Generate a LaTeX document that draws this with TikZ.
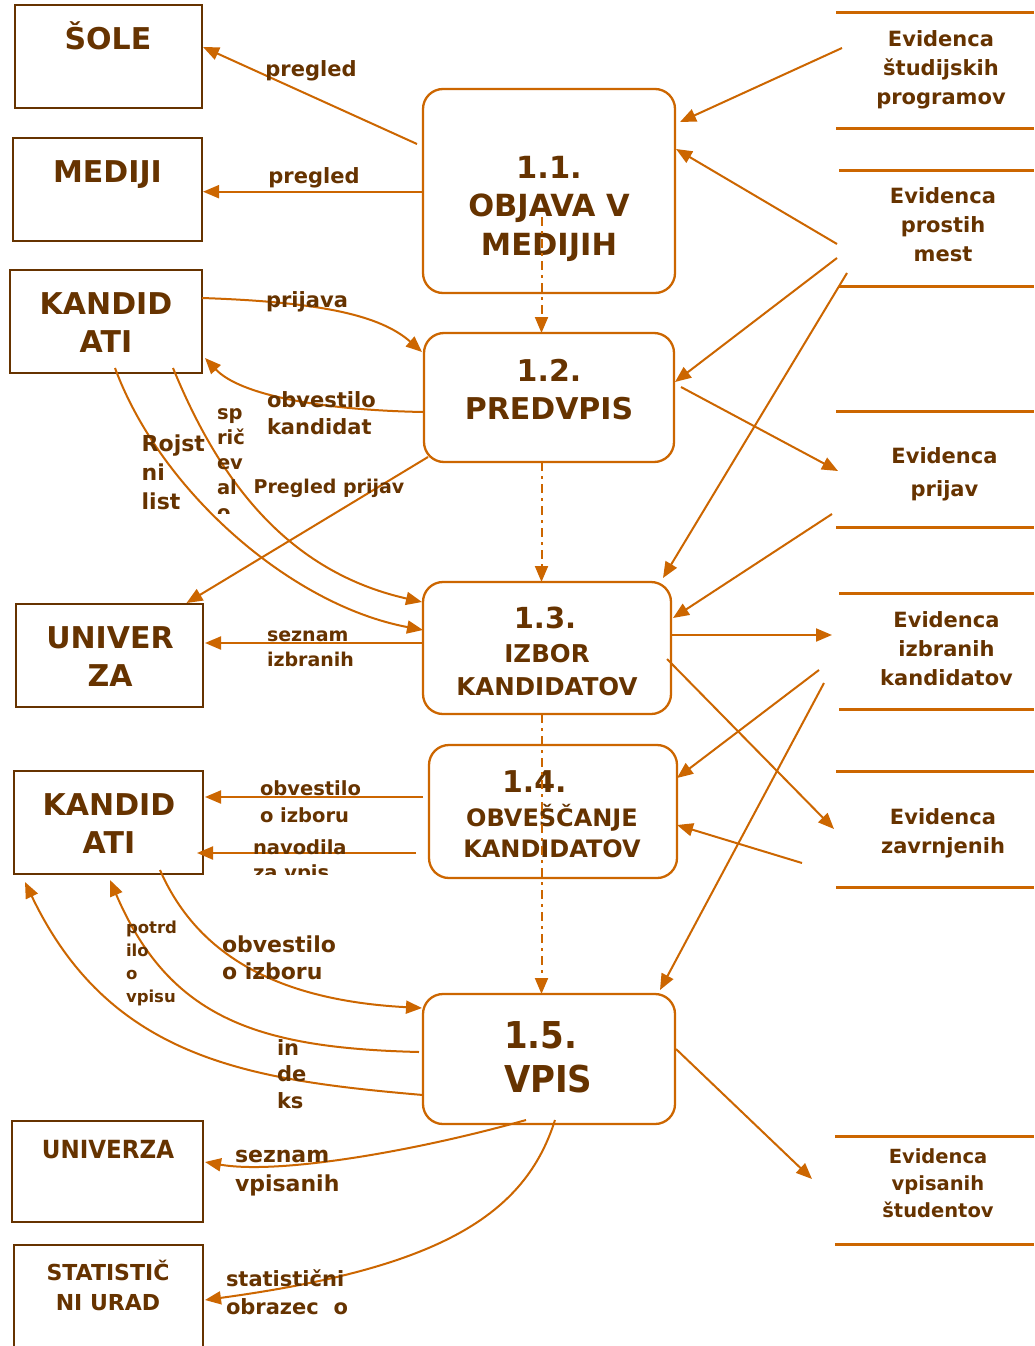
\documentclass[tikz,border=0pt]{standalone}
\usepackage{fontspec}
\setmainfont{DejaVu Sans}
\newfontfamily\narrowfont{DejaVu Sans}[FakeStretch=0.92]
\usetikzlibrary{arrows.meta,calc}
\definecolor{flowc}{RGB}{204,102,0}
\definecolor{inkc}{RGB}{102,51,0}
\tikzset{
  every node/.style={inner sep=0pt, outer sep=0pt},
  entity/.style={draw=inkc, line width=2.6pt, rectangle},
  proc/.style={draw=flowc, line width=2.3pt, rectangle, rounded corners=20pt},
  store/.style={rectangle},
  storeline/.style={draw=flowc, line width=3pt},
  flow/.style={draw=flowc, line width=2pt, -{Triangle[length=16pt,width=13pt]}},
  ctrl/.style={flow, dash pattern=on 9pt off 5pt on 3pt off 5pt},
  fs/.style 2 args={font=\bfseries\fontsize{#1pt}{#2pt}\selectfont},
  % multi-line texts are placed by the baseline of their last line
  txt/.style={text=inkc, align=center, anchor=base},
  lab/.style={text=inkc, align=left, anchor=base west},
}
\begin{document}
\begin{tikzpicture}[x=1pt,y=-1pt]
\clip (0,0) rectangle (1034,1346);
\fill[white] (0,0) rectangle (1034,1346);

% external entities
\node[entity, minimum width=187pt, minimum height=103pt] (sole)   at (108.5,56.5) {};
\node[entity, minimum width=189pt, minimum height=103pt] (mediji) at (107.5,189.5) {};
\node[entity, minimum width=192pt, minimum height=103pt] (kand1)  at (106,321.5) {};
\node[entity, minimum width=187pt, minimum height=103pt] (univ1)  at (109.5,655.5) {};
\node[entity, minimum width=189pt, minimum height=103pt] (kand2)  at (108.5,822.5) {};
\node[entity, minimum width=191pt, minimum height=101pt] (univ2)  at (107.5,1171.5) {};
\node[entity, minimum width=189pt, minimum height=105pt] (stat)   at (108.5,1297.5) {};

\node[txt, fs={30}{38.5}] (t-sole)   at (108,50)    {ŠOLE};
\node[txt, fs={30}{38.5}] (t-mediji) at (107.5,182) {MEDIJI};
\node[txt, fs={30}{38.5}] (t-kand1)  at (106,352.5) {KANDID\\ATI};
\node[txt, fs={30}{38}]   (t-univ1)  at (110,686)   {UNIVER\\ZA};
\node[txt, fs={30}{38}]   (t-kand2)  at (109,853)   {KANDID\\ATI};
\node[txt, font=\narrowfont\bfseries\fontsize{25pt}{30pt}\selectfont] (t-univ2) at (108,1158) {UNIVERZA};
\node[txt, fs={22}{30}]   (t-stat)   at (108,1310)  {STATISTIČ\\NI URAD};

% processes
\node[proc, minimum width=252pt, minimum height=204pt] (p11) at (549,191) {};
\node[proc, minimum width=250pt, minimum height=129pt] (p12) at (549,397.5) {};
\node[proc, minimum width=248pt, minimum height=132pt] (p13) at (547,648) {};
\node[proc, minimum width=248pt, minimum height=133pt] (p14) at (553,811.5) {};
\node[proc, minimum width=252pt, minimum height=130pt] (p15) at (549,1059) {};

\node[txt, fs={30.5}{38.5}] (t-p11)  at (549,255) {1.1.\\OBJAVA V\\MEDIJIH};
\node[txt, fs={30}{38}]     (t-p12)  at (549,419) {1.2.\\PREDVPIS};
\node[txt, fs={29}{33}]     (t-p13a) at (545,628) {1.3.};
\node[txt, fs={24.5}{33}]   (t-p13b) at (547,695) {IZBOR\\KANDIDATOV};
\node[lab, fs={30}{31}]     (t-p14a) at (502,792) {1.4.};
\node[txt, fs={24}{31}]     (t-p14b) at (552,857) {OBVEŠČANJE\\KANDIDATOV};
\node[lab, font=\narrowfont\bfseries\fontsize{37pt}{44pt}\selectfont] (t-p15) at (504,1092) {1.5.\\VPIS};

% data stores
\node[store, minimum width=198pt, minimum height=115pt] (ds1) at (935,70.5) {};
\node[store, minimum width=195pt, minimum height=116pt] (ds2) at (936.5,228) {};
\node[store, minimum width=198pt, minimum height=116pt] (ds3) at (935,469) {};
\node[store, minimum width=195pt, minimum height=116pt] (ds4) at (936.5,651) {};
\node[store, minimum width=198pt, minimum height=116pt] (ds5) at (935,829) {};
\node[store, minimum width=199pt, minimum height=108pt] (ds6) at (934.5,1190) {};
\foreach \d in {ds1,ds2,ds3,ds4,ds5,ds6}{
  \draw[storeline] (\d.north west) -- (\d.north east);
  \draw[storeline] (\d.south west) -- (\d.south east);
}
\node[txt, fs={21}{29}]   (t-ds1) at (941,104)   {Evidenca\\študijskih\\programov};
\node[txt, fs={21}{29}]   (t-ds2) at (943,261)   {Evidenca\\prostih\\mest};
\node[txt, fs={21}{33}]   (t-ds3) at (944.5,496) {Evidenca\\prijav};
\node[txt, fs={21}{29}]   (t-ds4) at (946.5,685) {Evidenca\\izbranih\\kandidatov};
\node[txt, fs={21}{29}]   (t-ds5) at (943,853)   {Evidenca\\zavrnjenih};
\node[txt, fs={19.5}{27}] (t-ds6) at (938,1217)  {Evidenca\\vpisanih\\študentov};

% control flow between processes
\draw[ctrl] ($(p11)+(-7.5,26)$) coordinate (c1) -- (c1 |- p12.north);
\draw[ctrl] ($(p12.south)+(-7.5,0)$) coordinate (c2) -- (c2 |- p13.north);
\draw[ctrl] ($(p13.south)+(-5.5,0)$) coordinate (c3) -- (c3 |- p15.north);

% data flows on the left
\draw[flow] ($(p11.west)+(-6,-47)$) -- ($(sole.east)+(1,-9.5)$);
\draw[flow] ($(p11.west)+(0,0.7)$) coordinate (m1) -- ($(m1 -| mediji.east)+(1,0)$);
\draw[flow] ($(kand1.east)+(0,-23.5)$) .. controls +(118,4) and +(-42,-37) .. ($(p12.west)+(-2,-45.5)$);
\draw[flow] ($(p12.west)+(-1,14.5)$) .. controls +(-103,-2) and +(35,37) .. ($(kand1.east)+(3,36.5)$);
\draw[flow] ($(p12.south west)+(4,-5)$) -- ($(univ1.north)+(77,-1)$);
\draw[flow] ($(kand1.south)+(9,-5)$) .. controls +(45,122) and +(-133,-25) .. ($(p13.west)+(0,-18)$);
\draw[flow] ($(kand1.south)+(67,-5)$) .. controls +(42,102) and +(-142,-32) .. ($(p13.west)+(-1,-46)$);
\draw[flow] ($(p13.west)+(0,-5)$) coordinate (s1) -- ($(s1 -| univ1.east)+(2,0)$);
\draw[flow] ($(p14.west)+(-6,-14.5)$) coordinate (o1) -- ($(o1 -| kand2.east)+(2,0)$);
\draw[flow] ($(p14.west)+(-13,41.5)$) coordinate (n1) -- ($(n1 -| kand2.east)+(-6,0)$);
\draw[flow] ($(kand2.south)+(51.5,-4)$) .. controls +(35,80) and +(-152,-8) .. ($(p15.west)+(-1,-51)$);
\draw[flow] ($(p15.west)+(-4,-7)$) .. controls +(-159,-4) and +(60,140) .. ($(kand2.south)+(1.5,6)$);
\draw[flow] ($(p15.west)+(0,36)$) .. controls +(-173,-15) and +(85,178) .. ($(kand2.south west)+(11,8)$);
\draw[flow] ($(p15.south)+(-23,-4)$) .. controls +(-106,30) and +(75,13) .. ($(univ2.east)+(2,-9.5)$);
\draw[flow] ($(p15.south)+(6,-4)$) .. controls +(-30,95) and +(235,-32) .. ($(stat.east)+(2,2.5)$);

% data flows on the right
\draw[flow] ($(p15.east)+(1,-10)$) -- ($(ds6.west)+(-23,-11)$);
\draw[flow] ($(ds1.west)+(6,-22.5)$) -- ($(p11.north east)+(5,33)$);
\draw[flow] ($(ds2.west)+(-2,16)$) -- ($(p11.east)+(1,-42)$);
\draw[flow] ($(ds2.west)+(-2,30)$) -- ($(p12.east)+(1,-15.5)$);
\draw[flow] ($(ds2.west)+(8,45)$) -- ($(p13.north east)+(-8,-4)$);
\draw[flow] ($(p12.east)+(7,-10.5)$) -- ($(ds3.west)+(2,2)$);
\draw[flow] ($(ds3.west)+(-4,45)$) -- ($(p13.east)+(2,-30)$);
\draw[flow] ($(p13.east)+(1,-13)$) -- ($(ds4.west)+(-7,-16)$);
\draw[flow] ($(p13.east)+(-4,11)$) -- ($(ds5.west)+(-2,0)$);
\draw[flow] ($(ds4.west)+(-20,19)$) -- ($(p14.east)+(0,-33.5)$);
\draw[flow] ($(ds5.west)+(-34,34)$) -- ($(p14.east)+(0,13.5)$);
\draw[flow] ($(ds4.west)+(-15,32)$) -- ($(p15.north east)+(-15,-4)$);

% flow labels
\node[txt, fs={21}{27}] (l-pregled1) at (311,77)  {pregled};
\node[txt, fs={21}{27}] (l-pregled2) at (314,183) {pregled};
\node[txt, fs={21}{27}] (l-prijava)  at (307,307) {prijava};
\node[lab, fs={21}{27}] (l-obvk)     at (267,434) {obvestilo\\kandidat};
\node[txt, fs={19}{25}] (l-pregp)    at (329,493) {Pregled prijav};
\node[lab, fs={22}{29}] (l-rojst)    at (141.7,509) {Rojst\\ni\\list};
\begin{scope}
  \clip (200,380) rectangle (262,513);
  \node[lab, fs={19.5}{25}] (l-spric) at (217,519) {sp\\rič\\ev\\al\\o};
\end{scope}
\node[lab, fs={19}{25}]   (l-sezi)   at (267,666) {seznam\\izbranih};
\node[lab, fs={19.5}{27}] (l-obvi1)  at (260,822) {obvestilo\\o izboru};
\begin{scope}
  \clip (240,820) rectangle (420,874);
  \node[lab, fs={19.5}{25}] (l-navod) at (253,879) {navodila\\za vpis};
\end{scope}
\node[lab, fs={22}{27}]   (l-obvi2)  at (222,979)  {obvestilo\\o izboru};
\node[lab, fs={16.5}{22.7}] (l-potrd) at (126,1002) {potrd\\ilo\\o\\vpisu};
\node[lab, fs={21}{26.5}] (l-indeks) at (277,1108) {in\\de\\ks};
\node[lab, fs={22}{29}]   (l-sezv)   at (235,1191) {seznam\\vpisanih};
\node[lab, fs={21}{28}]   (l-statob) at (226,1314) {statistični\\obrazec\ \ o};
\end{tikzpicture}
\end{document}
